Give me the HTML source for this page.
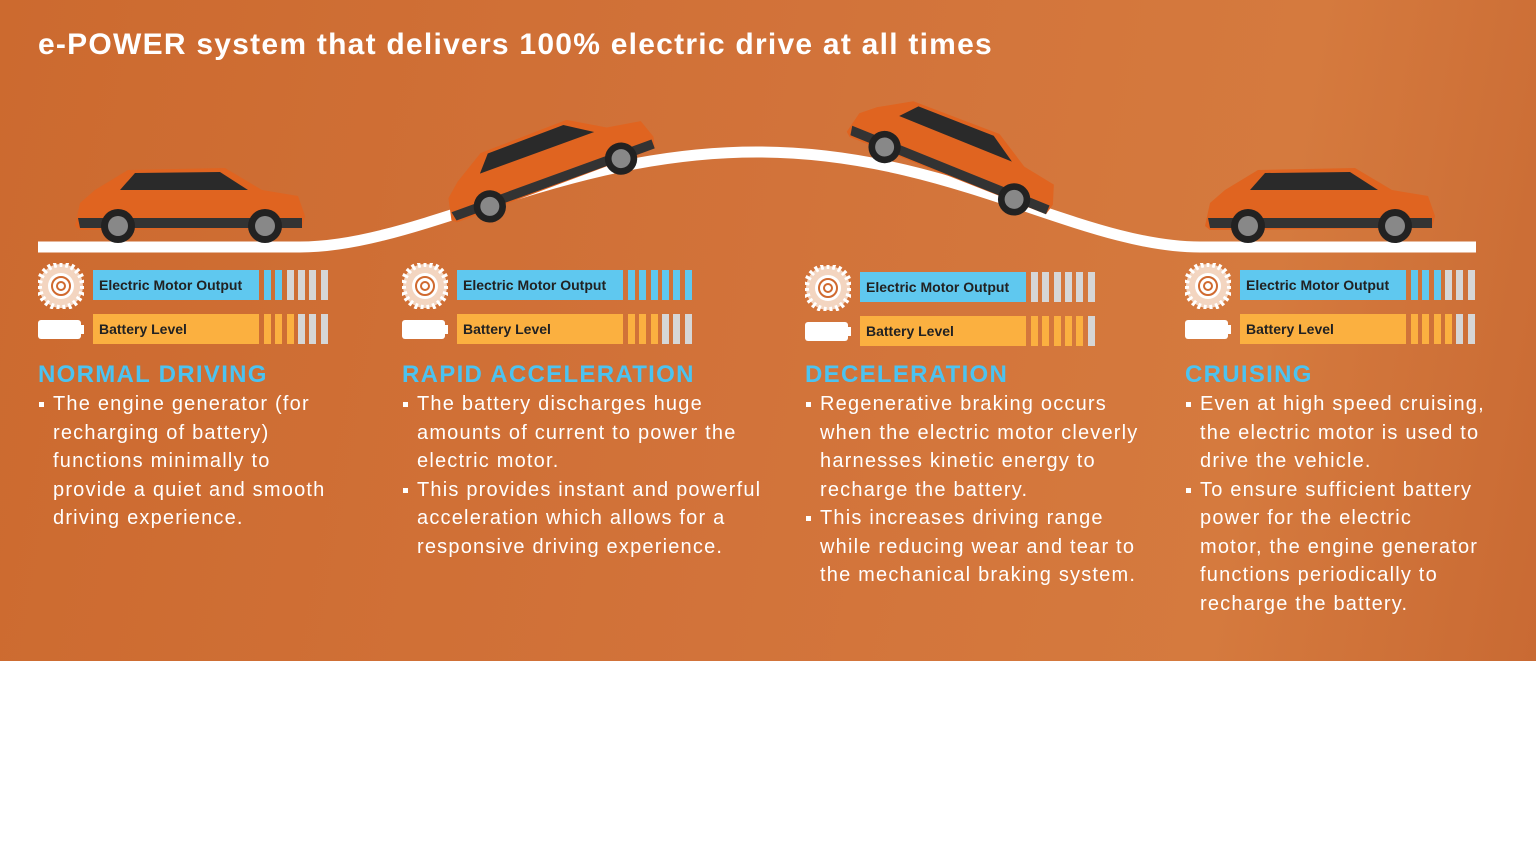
<!DOCTYPE html>
<html><head><style>
body{margin:0;width:1536px;height:864px;background:#fff;overflow:hidden;font-family:"Liberation Sans",sans-serif}
#bg{position:absolute;left:0;top:0;width:1536px;height:661px;background:linear-gradient(100deg,#cc6a2f 0%,#d2733a 50%,#d57a3e 80%,#c96a33 100%)}
h1{position:absolute;left:38px;top:28px;margin:0;color:#fff;font-size:30px;font-weight:bold;letter-spacing:1.25px;white-space:nowrap}
.lbl{position:absolute;height:30px;width:166px;font-size:14px;font-weight:bold;color:#222;line-height:30px;padding-left:6px;box-sizing:border-box}
.seg{position:absolute;width:7px;height:30px}
h2{position:absolute;margin:0;color:#4cc3f0;font-size:24px;font-weight:bold;top:361px;white-space:nowrap;letter-spacing:1.3px}
.txt{position:absolute;top:390px;color:#fff;font-size:20px;line-height:28.5px;white-space:nowrap;letter-spacing:1.2px}
.txt p{margin:0;padding-left:15px;position:relative}
.txt p:before{content:"";position:absolute;left:1px;top:12px;width:5px;height:5px;background:#fff}
</style></head><body>
<div id="bg"></div>
<h1>e-POWER system that delivers 100% electric drive at all times</h1>
<svg width="1536" height="661" style="position:absolute;left:0;top:0">
<path d="M38 247 L300 247 C420 247 560 152 757 152 C950 152 1080 247 1200 247 L1476 247" stroke="#fff" stroke-width="11" fill="none"/>
<defs>
<g id="car">
<path d="M-115 28 L-110 5 L-95 -8 L-62 -28 L35 -30 L72 -8 L108 -2 L115 18 L112 30 L-110 32 Z" fill="#e06420"/>
<path d="M-55 -25 L30 -26 L58 -8 L-70 -8 Z" fill="#2a2a2a"/>
<path d="M-112 20 L112 20 L112 30 L-110 30 Z" fill="#333"/>
<circle cx="-72" cy="28" r="17" fill="#222"/><circle cx="-72" cy="28" r="10" fill="#888"/>
<circle cx="75" cy="28" r="17" fill="#222"/><circle cx="75" cy="28" r="10" fill="#888"/>
</g>
</defs>
<use href="#car" x="190" y="198"/>
<use href="#car" transform="translate(545,158) rotate(-20) scale(0.95)"/>
<use href="#car" transform="translate(958,148) rotate(22) scale(0.95)"/>
<use href="#car" x="1320" y="198"/>
</svg>
<div id="cols"></div>
<script>
var cols=[[38,2,3,"NORMAL DRIVING",[["The engine generator (for","recharging of battery)","functions minimally to","provide a quiet and smooth","driving experience."]]],
[402,6,3,"RAPID ACCELERATION",[["The battery discharges huge","amounts of current to power the","electric motor."],["This provides instant and powerful","acceleration which allows for a","responsive driving experience."]]],
[805,0,5,"DECELERATION",[["Regenerative braking occurs","when the electric motor cleverly","harnesses kinetic energy to","recharge the battery."],["This increases driving range","while reducing wear and tear to","the mechanical braking system."]]],
[1185,3,4,"CRUISING",[["Even at high speed cruising,","the electric motor is used to","drive the vehicle."],["To ensure sufficient battery","power for the electric","motor, the engine generator","functions periodically to","recharge the battery."]]]];
var h="";
cols.forEach(function(c,i){var x=c[0],dy=(i==2?2:0);
h+='<svg style="position:absolute;left:'+x+'px;top:'+(263+dy)+'px" width="46" height="46"><circle cx="23" cy="23" r="22" fill="#f3d5c0"/><circle cx="23" cy="23" r="22" fill="none" stroke="#fff" stroke-width="6" stroke-dasharray="3 3"/><circle cx="23" cy="23" r="13" fill="#fff"/><circle cx="23" cy="23" r="9" fill="none" stroke="#d06a30" stroke-width="2"/><circle cx="23" cy="23" r="4" fill="none" stroke="#d06a30" stroke-width="2"/></svg>';
h+='<div style="position:absolute;left:'+x+'px;top:'+(320+dy)+'px;width:43px;height:19px;background:#fff;border-radius:3px"></div><div style="position:absolute;left:'+(x+43)+'px;top:'+(325+dy)+'px;width:3px;height:9px;background:#fff"></div>';
h+='<div class="lbl" style="left:'+(x+55)+'px;top:'+(270+dy)+'px;background:#5fc8ef">Electric Motor Output</div>';
h+='<div class="lbl" style="left:'+(x+55)+'px;top:'+(314+dy)+'px;background:#fbb040">Battery Level</div>';
for(var k=0;k<6;k++){var sx=x+226+k*11.3;
h+='<div class="seg" style="left:'+sx+'px;top:'+(270+dy)+'px;background:'+(k<c[1]?'#5fc8ef':'#d6d6d6')+'"></div>';
h+='<div class="seg" style="left:'+sx+'px;top:'+(314+dy)+'px;background:'+(k<c[2]?'#fbb040':'#d6d6d6')+'"></div>';}
h+='<h2 style="left:'+x+'px">'+c[3]+'</h2><div class="txt" style="left:'+x+'px">'+c[4].map(function(t){return '<p>'+t.join('<br>')+'</p>'}).join('')+'</div>';
});
document.getElementById('cols').innerHTML=h;
</script>
</body></html>
